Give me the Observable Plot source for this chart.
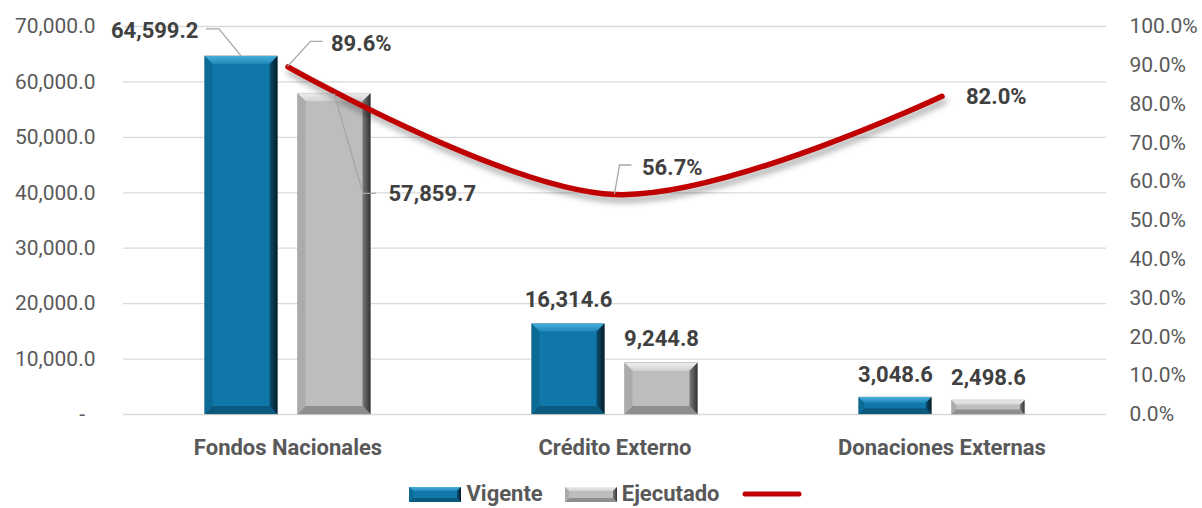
<!DOCTYPE html>
<html><head><meta charset="utf-8">
<script src="https://cdn.jsdelivr.net/npm/d3@7"></script>
<script src="https://cdn.jsdelivr.net/npm/@observablehq/plot@0.6"></script>
<style>
body{margin:0;background:#fff;font-family:Roboto,"Liberation Sans",sans-serif;overflow:hidden;}
#legend{height:30px;display:flex;align-items:center;justify-content:center;padding-left:14px;padding-top:2px;box-sizing:border-box;font-weight:bold;font-size:22px;line-height:24px;color:#595959;}
#legend .item{display:flex;align-items:center;margin:0 11px;}
#legend svg{margin-right:5px;}
</style></head>
<body><div id="chart"></div><div id="legend"></div>
<script>
// ---------- data ----------
const categories = ["Fondos Nacionales", "Crédito Externo", "Donaciones Externas"];
const seriesNames = ["Vigente", "Ejecutado"];
const vigente = [64599.2, 16314.6, 3048.6];
const ejecutado = [57859.7, 9244.8, 2498.6];
const porcentaje = [89.6, 56.7, 82.0];
const leftTicks = [0, 10000, 20000, 30000, 40000, 50000, 60000, 70000];
const rightTicks = [0, 10, 20, 30, 40, 50, 60, 70, 80, 90, 100];

// ---------- layout ----------
const W = 1202, H = 478, ML = 123, MR = 96, MT = 26, MB = 64;
const yMax = 70000;
const pctToY = p => p / 100 * yMax;
const bw = (W - ML - MR) / categories.length;
const barW = 73, off = 46.5;
const seriesOffset = {Vigente: -off, Ejecutado: off};
const palette = {
  Vigente: {main: "#0F78A8", top: ["#45AEDB", "#2188B8"], left: "#0C6A96", right: ["#0A4F70", "#031C29"], bottom: "#0A5A80"},
  Ejecutado: {main: "#BDBDBD", top: ["#EDEDED", "#D2D2D2"], left: "#ABABAB", right: ["#7A7A7A", "#333333"], bottom: "#8E8E8E"}
};
const fmtNum = d3.format(",.1f");

const bars = categories.flatMap((c, i) => [
  {cat: c, serie: "Vigente", value: vigente[i]},
  {cat: c, serie: "Ejecutado", value: ejecutado[i]}
]);
const linePts = categories.map((c, i) => ({cat: c, pct: porcentaje[i], y: pctToY(porcentaje[i])}));

// label placement (pixel offsets from anchor point)
const labelLayout = [
  {serie: "Vigente", i: 0, dx: -43, dy: -25, anchor: "end", leader: [[-22, -27], [-35, -27]]},
  {serie: "Ejecutado", i: 0, dx: 54, dy: 100, anchor: "start", leader: [[29, 100], [42, 100]]},
  {serie: "Vigente", i: 1, dx: 0, dy: -24, anchor: "middle"},
  {serie: "Ejecutado", i: 1, dx: 0, dy: -24, anchor: "middle"},
  {serie: "Vigente", i: 2, dx: 0, dy: -23, anchor: "middle"},
  {serie: "Ejecutado", i: 2, dx: 0, dy: -23, anchor: "middle"},
  {serie: "pct", i: 0, dx: 43, dy: -23, anchor: "start", leader: [[23, -25], [35, -25]]},
  {serie: "pct", i: 1, dx: 27, dy: -27, anchor: "start", leader: [[5, -29], [17, -29]]},
  {serie: "pct", i: 2, dx: 24, dy: 1, anchor: "start"}
];
function labelDatum(l) {
  if (l.serie === "pct") return {cat: categories[l.i], y: pctToY(porcentaje[l.i]), text: porcentaje[l.i].toFixed(1) + "%", ox: 0};
  const v = (l.serie === "Vigente" ? vigente : ejecutado)[l.i];
  return {cat: categories[l.i], y: v, text: fmtNum(v), ox: seriesOffset[l.serie]};
}

// ---------- bevel drawing ----------
let gradCount = 0;
function drawBevel(g, L, T, R, B, pal, bmax) {
  const b = Math.min(bmax, (B - T) / 3);
  const id = "bv" + (gradCount++);
  const defs = g.append("defs");
  const gt = defs.append("linearGradient").attr("id", id + "t").attr("x1", 0).attr("x2", 0).attr("y1", 0).attr("y2", 1);
  gt.append("stop").attr("offset", 0).attr("stop-color", pal.top[0]);
  gt.append("stop").attr("offset", 1).attr("stop-color", pal.top[1]);
  const gr = defs.append("linearGradient").attr("id", id + "r").attr("x1", 0).attr("x2", 1).attr("y1", 0).attr("y2", 0);
  gr.append("stop").attr("offset", 0).attr("stop-color", pal.right[0]);
  gr.append("stop").attr("offset", 1).attr("stop-color", pal.right[1]);
  const poly = (pts, fill) => g.append("polygon").attr("points", pts.map(p => p.join(",")).join(" ")).attr("fill", fill);
  poly([[L, T], [R, T], [R - b, T + b], [L + b, T + b]], `url(#${id}t)`);
  poly([[L, B], [R, B], [R - b, B - b], [L + b, B - b]], pal.bottom);
  poly([[L, T], [L + b, T + b], [L + b, B - b], [L, B]], pal.left);
  poly([[R, T], [R - b, T + b], [R - b, B - b], [R, B]], `url(#${id}r)`);
}

function bevelMark(index, scales) {
  const g = d3.create("svg:g");
  const x = scales.x, y = scales.y;
  const band = x.bandwidth ? x.bandwidth() : bw;
  for (const d of bars) {
    const cx = x(d.cat) + band / 2 + seriesOffset[d.serie];
    drawBevel(g, cx - barW / 2, y(d.value), cx + barW / 2, y(0), palette[d.serie], 8);
  }
  return g.node();
}

function leaderMark(index, scales) {
  const g = d3.create("svg:g").attr("fill", "none").attr("stroke", "#A6A6A6").attr("stroke-width", 1.3);
  const x = scales.x, y = scales.y;
  const band = x.bandwidth ? x.bandwidth() : bw;
  for (const l of labelLayout) {
    if (!l.leader) continue;
    const d = labelDatum(l);
    const px = x(d.cat) + band / 2 + d.ox, py = y(d.y);
    const pts = [[px, py], ...l.leader.map(([a, b]) => [px + a, py + b])];
    g.append("polyline").attr("points", pts.map(p => p.join(",")).join(" "));
  }
  return g.node();
}

const textMarks = labelLayout.map(l => {
  const d = labelDatum(l);
  return Plot.text([d], {x: "cat", y: "y", text: "text", dx: d.ox + l.dx, dy: l.dy, textAnchor: l.anchor,
    fontWeight: "bold", fontSize: 22, fill: "#404040"});
});

const barMarks = seriesNames.map(s => {
  const il = bw / 2 + seriesOffset[s] - barW / 2;
  return Plot.barY(bars.filter(d => d.serie === s), {x: "cat", y: "value", fill: palette[s].main,
    insetLeft: il, insetRight: bw - il - barW, stroke: "#A0A0A0", strokeWidth: 0.8});
});

const chart = Plot.plot({
  width: W, height: H, marginLeft: ML, marginRight: MR, marginTop: MT, marginBottom: MB,
  style: {fontFamily: "Roboto, 'Liberation Sans', sans-serif", background: "white", color: "#595959", overflow: "visible"},
  x: {type: "band", domain: categories, padding: 0, axis: null, label: null},
  y: {domain: [0, yMax], axis: null, label: null},
  marks: [
    Plot.gridY(leftTicks, {stroke: "#D9D9D9", strokeOpacity: 1, strokeWidth: 1.3}),
    ...barMarks,
    bevelMark,
    Plot.line(linePts, {x: "cat", y: "y", curve: "catmull-rom", stroke: "#C00000", strokeWidth: 5.5, strokeLinecap: "round"}),
    leaderMark,
    ...textMarks,
    Plot.axisY(leftTicks, {anchor: "left", tickSize: 0, tickPadding: 28, fontSize: 21, color: "#595959", label: null,
      tickFormat: d => d === 0 ? "-\u00a0\u00a0" : fmtNum(d)}),
    Plot.axisY(rightTicks.map(pctToY), {anchor: "right", tickSize: 0, tickPadding: 23, fontSize: 21, color: "#595959", label: null,
      tickFormat: d => (d / yMax * 100).toFixed(1) + "%"}),
    Plot.axisX({anchor: "bottom", tickSize: 0, tickPadding: 25, fontSize: 22, fontWeight: "bold", color: "#595959", label: null})
  ]
});
document.getElementById("chart").appendChild(chart);
const lineG = chart.querySelector('g[aria-label="line"]');
if (lineG) lineG.style.filter = "drop-shadow(2px 5px 3px rgba(0,0,0,0.35))";

// ---------- legend ----------
const legend = d3.select("#legend");
seriesNames.forEach(s => {
  const it = legend.append("div").attr("class", "item");
  const sw = it.append("svg").attr("width", 52).attr("height", 15);
  sw.append("rect").attr("x", 0).attr("y", 0).attr("width", 52).attr("height", 15).attr("fill", palette[s].main);
  drawBevel(sw, 0, 0, 52, 15, palette[s], 4);
  it.append("span").text(s);
});
const li = legend.append("div").attr("class", "item");
const ls = li.append("svg").attr("width", 60).attr("height", 10);
ls.append("line").attr("x1", 3).attr("x2", 57).attr("y1", 5).attr("y2", 5).attr("stroke", "#C00000").attr("stroke-width", 5).attr("stroke-linecap", "round");
</script>
</body></html>
